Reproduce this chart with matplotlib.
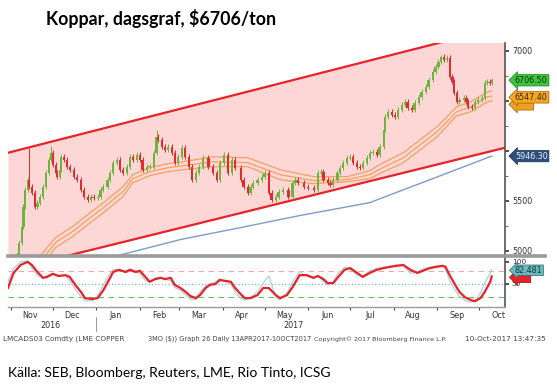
import pandas as pd
import matplotlib
matplotlib.use('Agg')
import matplotlib.pyplot as plt
from matplotlib.lines import Line2D
import numpy as np

# --- price candles (close) ---
candle_dates = [
    '2016-11-06', '2016-11-07', '2016-11-09', '2016-11-10', '2016-11-11', '2016-11-13',
    '2016-11-14', '2016-11-16', '2016-11-18', '2016-11-20', '2016-11-22', '2016-11-24',
    '2016-11-26', '2016-11-28', '2016-11-30', '2016-12-01', '2016-12-03', '2016-12-04',
    '2016-12-06', '2016-12-07', '2016-12-09', '2016-12-11', '2016-12-13', '2016-12-16',
    '2016-12-18', '2016-12-21', '2016-12-23', '2016-12-26', '2016-12-28', '2016-12-30',
    '2017-01-02', '2017-01-04', '2017-01-06', '2017-01-09', '2017-01-11', '2017-01-13',
    '2017-01-16', '2017-01-18', '2017-01-20', '2017-01-23', '2017-01-25', '2017-01-27',
    '2017-01-30', '2017-02-01', '2017-02-03', '2017-02-06', '2017-02-08', '2017-02-11',
    '2017-02-13', '2017-02-14', '2017-02-17', '2017-02-19', '2017-02-21', '2017-02-24',
    '2017-02-26', '2017-02-28', '2017-03-03', '2017-03-05', '2017-03-08', '2017-03-10',
    '2017-03-13', '2017-03-15', '2017-03-18', '2017-03-22', '2017-03-25', '2017-03-28',
    '2017-03-30', '2017-04-02', '2017-04-05', '2017-04-08', '2017-04-10', '2017-04-14',
    '2017-04-16', '2017-04-19', '2017-04-21', '2017-04-23', '2017-04-26', '2017-04-29',
    '2017-05-01', '2017-05-04', '2017-05-06', '2017-05-09', '2017-05-11', '2017-05-14',
    '2017-05-18', '2017-05-21', '2017-05-23', '2017-05-25', '2017-05-29', '2017-06-01',
    '2017-06-05', '2017-06-08', '2017-06-10', '2017-06-12', '2017-06-15', '2017-06-17',
    '2017-06-19', '2017-06-22', '2017-06-24', '2017-06-26', '2017-06-29', '2017-07-01',
    '2017-07-03', '2017-07-06', '2017-07-08', '2017-07-10', '2017-07-13', '2017-07-15',
    '2017-07-17', '2017-07-20', '2017-07-22', '2017-07-25', '2017-07-26', '2017-07-28',
    '2017-07-31', '2017-08-02', '2017-08-04', '2017-08-07', '2017-08-09', '2017-08-11',
    '2017-08-14', '2017-08-16', '2017-08-19', '2017-08-21', '2017-08-24', '2017-08-26',
    '2017-08-29', '2017-08-31', '2017-09-02', '2017-09-04', '2017-09-06', '2017-09-08',
    '2017-09-10', '2017-09-12', '2017-09-13', '2017-09-15', '2017-09-17', '2017-09-20',
    '2017-09-22', '2017-09-23', '2017-09-26', '2017-09-28', '2017-09-30', '2017-10-03',
    '2017-10-05', '2017-10-07', '2017-10-09', '2017-10-10',
]
closes = [
    4980, 5080, 5240, 5440, 5610, 5710,
    5640, 5580, 5440, 5480, 5540, 5640,
    5780, 5910, 5980, 5860, 5780, 5740,
    5810, 5940, 5910, 5840, 5810, 5740,
    5710, 5610, 5540, 5510, 5540, 5530,
    5540, 5610, 5640, 5710, 5780, 5880,
    5910, 5810, 5780, 5840, 5940, 5910,
    5960, 5910, 5810, 5840, 5840, 5980,
    6140, 6110, 6040, 6010, 6040, 5980,
    5880, 5940, 6030, 5940, 5840, 5710,
    5780, 5840, 5930, 5840, 5780, 5710,
    5880, 5960, 5780, 5910, 5830, 5710,
    5640, 5580, 5640, 5680, 5710, 5740,
    5780, 5580, 5510, 5540, 5590, 5610,
    5540, 5680, 5710, 5680, 5640, 5630,
    5610, 5780, 5790, 5710, 5680, 5660,
    5710, 5780, 5830, 5880, 5930, 5940,
    5880, 5840, 5830, 5880, 5930, 5980,
    5990, 5960, 6040, 6210, 6340, 6390,
    6360, 6340, 6410, 6460, 6490, 6430,
    6410, 6480, 6540, 6590, 6640, 6710,
    6790, 6840, 6890, 6940, 6910, 6930,
    6740, 6690, 6580, 6490, 6510, 6530,
    6490, 6440, 6430, 6490, 6510, 6530,
    6680, 6690, 6680, 6706.5,
]
first_open = 4900
spike_dates = ['2016-11-14', '2016-11-30', '2017-02-13', '2017-09-04']
spike_highs = [6030, 6050, 6210, 6960]

# --- moving averages ---
ma_dates = ['2016-11-15', '2016-12-03', '2016-12-15', '2016-12-26', '2017-01-07', '2017-01-20',
            '2017-01-27', '2017-02-08', '2017-02-21', '2017-03-04', '2017-03-25', '2017-04-19',
            '2017-05-12', '2017-06-05', '2017-06-29', '2017-07-15', '2017-07-22', '2017-08-08',
            '2017-09-01', '2017-09-15', '2017-09-25', '2017-10-07', '2017-10-10']
ma_fast = [4830, 5130, 5240, 5360, 5490, 5640, 5760, 5830, 5870, 5890, 5940, 5930,
           5810, 5740, 5740, 5800, 5860, 5980, 6240, 6440, 6490, 6590, 6600]
ma_mid = [4760, 5080, 5190, 5310, 5440, 5590, 5720, 5790, 5830, 5850, 5890, 5880,
          5760, 5700, 5710, 5760, 5815, 5930, 6190, 6390, 6440, 6540, 6547.4]
ma_slow = [4690, 5030, 5140, 5260, 5390, 5540, 5680, 5750, 5790, 5810, 5840, 5840,
           5710, 5670, 5690, 5720, 5770, 5880, 6140, 6350, 6390, 6490, 6500]

ma200_dates = ['2017-01-11', '2017-03-02', '2017-04-14', '2017-05-26', '2017-07-15',
               '2017-08-27', '2017-10-10']
ma200 = [4930, 5110, 5230, 5350, 5480, 5710, 5946.3]

# --- trend channel ---
chan_dates = ['2016-10-30 00:00', '2017-10-19 12:00']
chan_upper = [5980, 7250]
chan_lower = [4800, 6030]

# --- stochastics ---
osc_dates = [
    '2016-10-30', '2016-11-03', '2016-11-08', '2016-11-13', '2016-11-16', '2016-11-20',
    '2016-11-24', '2016-11-27', '2016-12-01', '2016-12-05', '2016-12-10', '2016-12-13',
    '2016-12-17', '2016-12-21', '2016-12-24', '2016-12-29', '2017-01-02', '2017-01-06',
    '2017-01-10', '2017-01-13', '2017-01-17', '2017-01-22', '2017-01-25', '2017-01-29',
    '2017-02-01', '2017-02-05', '2017-02-08', '2017-02-12', '2017-02-16', '2017-02-19',
    '2017-02-23', '2017-02-26', '2017-03-02', '2017-03-05', '2017-03-09', '2017-03-13',
    '2017-03-16', '2017-03-20', '2017-03-23', '2017-03-27', '2017-03-30', '2017-04-03',
    '2017-04-07', '2017-04-10', '2017-04-14', '2017-04-17', '2017-04-21', '2017-04-26',
    '2017-04-30', '2017-05-04', '2017-05-09', '2017-05-12', '2017-05-17', '2017-05-21',
    '2017-05-26', '2017-05-31', '2017-06-05', '2017-06-08', '2017-06-12', '2017-06-15',
    '2017-06-19', '2017-06-22', '2017-06-27', '2017-07-01', '2017-07-06', '2017-07-10',
    '2017-07-15', '2017-07-20', '2017-07-25', '2017-07-30', '2017-08-03', '2017-08-08',
    '2017-08-13', '2017-08-18', '2017-08-22', '2017-08-27', '2017-09-01', '2017-09-05',
    '2017-09-07', '2017-09-10', '2017-09-14', '2017-09-17', '2017-09-21', '2017-09-25',
    '2017-09-28', '2017-10-02', '2017-10-05', '2017-10-09', '2017-10-10',
]
stoch_d = [
    41, 75, 93, 100, 93, 77, 64, 66, 73, 68, 70, 66,
    48, 32, 18, 16, 18, 36, 59, 77, 82, 77, 82, 77,
    80, 66, 55, 61, 64, 61, 64, 48, 41, 34, 23, 18,
    25, 41, 48, 50, 59, 57, 55, 41, 27, 18, 18, 25,
    41, 41, 25, 18, 25, 43, 70, 70, 64, 68, 61, 52,
    52, 64, 82, 86, 75, 66, 75, 82, 86, 89, 91, 93,
    82, 75, 80, 86, 89, 91, 89, 70, 48, 32, 20, 14,
    11, 18, 32, 55, 67,
]
stoch_k = [
    55, 85, 100, 102, 86, 70, 62, 70, 72, 70, 69, 58,
    38, 22, 12, 12, 24, 48, 70, 83, 82, 80, 84, 80,
    74, 58, 55, 64, 65, 60, 58, 42, 36, 28, 16, 15,
    32, 46, 50, 55, 62, 56, 50, 32, 18, 13, 20, 32,
    52, 68, 20, 14, 30, 55, 78, 68, 62, 70, 55, 48,
    56, 72, 88, 84, 70, 68, 80, 85, 88, 90, 93, 92,
    74, 78, 84, 88, 91, 92, 84, 58, 36, 22, 13, 9,
    12, 30, 52, 75, 82.481,
]

month_labels = ['Nov', 'Dec', 'Jan', 'Feb', 'Mar', 'Apr', 'May', 'Jun', 'Jul', 'Aug', 'Sep', 'Oct']
price_ticks = [5000, 5500, 6000, 6500, 7000]
price_tick_labels = ['5000', '5500', '', '', '7000']   # 6000/6500 sit behind the value tags

W, H = 557, 384


def fbox(x0, y0, x1, y1):
    return [x0 / W, 1 - y1 / H, (x1 - x0) / W, (y1 - y0) / H]


fig = plt.figure(figsize=(W / 100, H / 100), dpi=100)
ax = fig.add_axes(fbox(8, 43, 505, 255))
osc = fig.add_axes(fbox(8, 257, 505, 307), sharex=ax)

xlim = pd.to_datetime(chan_dates)
ax.set_xlim(xlim[0], xlim[1])
ax.set_ylim(4955, 7080)

# channel
ax.fill_between(xlim, chan_lower, chan_upper, color='#fdd6d6', lw=0, zorder=0)
ax.plot(xlim, chan_upper, color='#e8222a', lw=1.6, zorder=1)
ax.plot(xlim, chan_lower, color='#e8222a', lw=1.6, zorder=1)

# moving averages
md = pd.to_datetime(ma_dates)
for vals in (ma_fast, ma_mid, ma_slow):
    ax.plot(md, vals, color='#f2a262', lw=0.9, zorder=2)
ax.plot(pd.to_datetime(ma200_dates), ma200, color='#7f9cc4', lw=1.0, zorder=2)

# candles
cd = pd.to_datetime(candle_dates)
c = np.array(closes, float)
o = np.r_[first_open, c[:-1]]
up = c >= o
hi = np.maximum(o, c) + 25
lo = np.minimum(o, c) - 25
for sd, sh in zip(pd.to_datetime(spike_dates), spike_highs):
    hi[cd == sd] = sh
cols = np.where(up, '#6cb43c', '#e42a2a')
ax.vlines(cd, lo, hi, colors=cols, lw=0.7, zorder=3)
ax.bar(cd, np.maximum(np.abs(c - o), 10), bottom=np.minimum(o, c), width=1.6,
       color=cols, lw=0, zorder=4)

# price axis on the right
for a in (ax, osc):
    a.yaxis.tick_right()
    for s in ('top', 'left', 'bottom'):
        a.spines[s].set_visible(False)
    a.spines['right'].set_color('#555555')
    a.spines['right'].set_linewidth(1.2)
    a.tick_params(axis='y', direction='out', length=3, width=1.2, color='#333333',
                  labelsize=5.8, labelcolor='#333333', pad=2)
    a.set_facecolor('none')
ax.set_yticks(price_ticks)
ax.set_yticklabels(price_tick_labels)
ax.set_yticks([5250, 5750, 6250, 6750], minor=True)
ax.tick_params(axis='y', which='minor', direction='out', length=2, color='#555555')
ax.tick_params(axis='x', which='both', bottom=False, labelbottom=False)

# value tags
tag = dict(xycoords=('axes fraction', 'data'), fontsize=5.8, va='center', ha='left',
           annotation_clip=False, zorder=10)
ax.annotate('       ', xy=(1.02, 6465),
            bbox=dict(boxstyle='larrow,pad=0.15', fc='#f0a020', ec='#a06010', lw=0.5), **tag)
ax.annotate('6547.40', xy=(1.02, 6535), color='#3a2a10',
            bbox=dict(boxstyle='larrow,pad=0.15', fc='#f5a623', ec='#a06010', lw=0.5), **tag)
ax.annotate('6706.50', xy=(1.02, 6706.5), color='#10320a',
            bbox=dict(boxstyle='larrow,pad=0.15', fc='#3cc43c', ec='#208020', lw=0.5), **tag)
ax.annotate('5946.30', xy=(1.02, 5946.3), color='#e8eef8',
            bbox=dict(boxstyle='larrow,pad=0.15', fc='#2d4f7c', ec='#1a3050', lw=0.5), **tag)

# oscillator
od = pd.to_datetime(osc_dates)
osc.set_ylim(-2, 111)
osc.axhline(80, color='#f4a8a8', lw=0.8, ls=(0, (5, 4)), zorder=1)
osc.axhline(50, color='#6aaed6', lw=0.8, ls=(0, (1, 2)), zorder=1)
osc.axhline(20, color='#62c062', lw=0.8, ls=(0, (5, 4)), zorder=1)
osc.plot(od, stoch_k, color='#a8d4dc', lw=0.9, zorder=2)
osc.plot(od, stoch_d, color='#e8222a', lw=1.6, zorder=3)
osc.set_yticks([50, 100])
osc.tick_params(axis='y', labelsize=5.3)
osc.spines['bottom'].set_visible(True)
osc.spines['bottom'].set_color('#9a9a9a')
osc.spines['bottom'].set_linewidth(1.0)

otag = dict(xycoords=('axes fraction', 'data'), fontsize=5.8, va='center', ha='left',
            annotation_clip=False, zorder=10)
osc.annotate('      ', xy=(1.02, stoch_d[-1] - 2),
             bbox=dict(boxstyle='larrow,pad=0.1', fc='#e8222a', ec='#a01010', lw=0.5), **otag)
osc.annotate('82.481', xy=(1.02, stoch_k[-1] - 1.5), color='#16383c',
             bbox=dict(boxstyle='larrow,pad=0.1', fc='#6ab8bc', ec='#2a6a70', lw=0.5), **otag)

# month axis
month_starts = pd.date_range('2016-11-01', '2017-10-01', freq='MS')
osc.set_xticks(month_starts)
osc.set_xticks(month_starts + pd.Timedelta(days=14), minor=True)
osc.xaxis.set_major_formatter(plt.NullFormatter())
osc.set_xticklabels(month_labels, minor=True)
osc.tick_params(axis='x', which='major', direction='out', length=2.5, width=0.8, color='#444444')
osc.tick_params(axis='x', which='minor', length=0, labelsize=5.8, labelcolor='#333333', pad=3)

# separators
fig.add_artist(Line2D([8 / W, 545 / W], [1 - 255.5 / H] * 2, color='#9a9a9a', lw=2.6))
fig.add_artist(Line2D([96 / W] * 2, [1 - 317 / H, 1 - 331 / H], color='#888888', lw=0.6))
fig.text(50 / W, 1 - 326 / H, '2016', fontsize=5.8, color='#333333', ha='center', va='center')
fig.text(294 / W, 1 - 326 / H, '2017', fontsize=5.8, color='#333333', ha='center', va='center')

foot = dict(color='#444444', va='center', ha='left')
fig.text(3 / W, 1 - 339 / H, 'LMCADS03 Comdty (LME COPPER', fontsize=5.2, **foot)
fig.text(148 / W, 1 - 339 / H, '3MO ($)) Graph 26 Daily 13APR2017-10OCT2017', fontsize=4.8, **foot)
fig.text(314 / W, 1 - 339 / H, 'Copyright\u00a9 2017 Bloomberg Finance L.P.', fontsize=4.6, **foot)
fig.text(465 / W, 1 - 339 / H, '10-Oct-2017 13:47:35', fontsize=5.2, **foot)

# title and source
fig.text(46 / W, 1 - 18 / H, 'Koppar, dagsgraf, $6706/ton', fontsize=12.8, fontweight='bold',
         family=['Lato', 'DejaVu Sans'], va='center', ha='left')
fig.text(8 / W, 1 - 373 / H, 'Källa: SEB, Bloomberg, Reuters, LME, Rio Tinto, ICSG', fontsize=10,
         family=['Lato', 'DejaVu Sans'], va='center', ha='left')

fig.savefig('out.png', dpi=100)
